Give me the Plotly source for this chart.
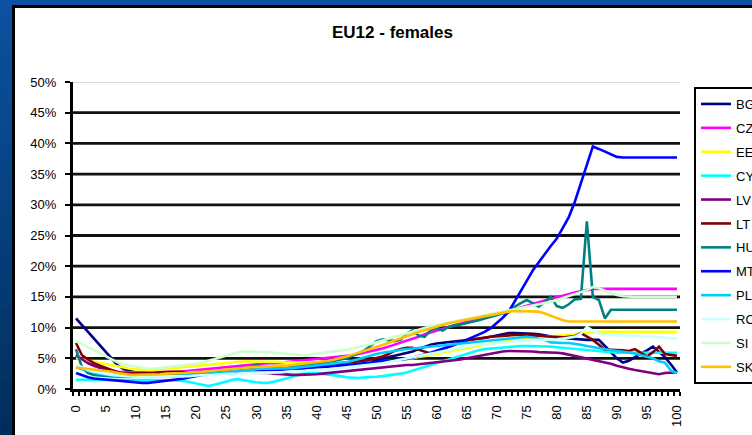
import plotly.graph_objects as go

ages = list(range(0, 101))
x_tick_labels = [str(a) for a in range(0, 101, 5)]
y_tick_values = list(range(0, 51, 5))
countries = ["BG", "CZ", "EE", "CY", "LV", "LT", "HU", "MT", "PL", "RO", "SI", "SK"]

BG = [11.5, 10.4, 9.3, 8.2, 7.0, 5.9, 4.8, 3.8, 3.2, 2.9,
      2.7, 2.6, 2.5, 2.5, 2.5, 2.5, 2.5, 2.4, 2.4, 2.4,
      2.4, 2.5, 2.6, 2.7, 2.8, 2.9, 3.0, 3.1, 3.2, 3.2,
      3.2, 3.2, 3.2, 3.2, 3.2, 3.3, 3.3, 3.4, 3.5, 3.5,
      3.6, 3.6, 3.7, 3.7, 3.8, 3.8, 3.9, 4.0, 4.2, 4.4,
      4.7, 5.0, 5.2, 5.4, 5.6, 5.8, 6.1, 6.5, 6.9, 7.2,
      7.4, 7.5, 7.6, 7.7, 7.8, 7.9, 8.0, 8.2, 8.3, 8.5,
      8.7, 8.9, 9.1, 9.1, 9.1, 9.0, 9.0, 8.9, 8.7, 8.5,
      8.4, 8.3, 8.2, 8.1, 8.0, 8.0, 8.0, 8.0, 7.0, 6.0,
      5.0, 4.3, 4.6, 5.2, 5.7, 6.3, 6.9, 6.0, 5.2, 4.0,
      2.7]
CZ = [5.5, 4.8, 4.2, 3.8, 3.5, 3.2, 3.0, 2.8, 2.7, 2.7,
      2.7, 2.7, 2.7, 2.7, 2.7, 2.8, 2.8, 2.8, 2.9, 3.0,
      3.1, 3.2, 3.3, 3.4, 3.5, 3.6, 3.7, 3.8, 3.9, 4.0,
      4.0, 4.1, 4.2, 4.2, 4.3, 4.4, 4.5, 4.5, 4.6, 4.7,
      4.8, 4.9, 5.0, 5.1, 5.2, 5.3, 5.5, 5.7, 5.9, 6.1,
      6.3, 6.6, 6.9, 7.2, 7.5, 7.8, 8.2, 8.5, 8.9, 9.2,
      9.5, 9.8, 10.1, 10.4, 10.7, 11.0, 11.3, 11.5, 11.8, 12.0,
      12.3, 12.5, 12.8, 13.0, 13.3, 13.5, 13.8, 14.1, 14.4, 14.7,
      15.0, 15.2, 15.5, 15.7, 15.9, 16.1, 16.3, 16.3, 16.3, 16.3,
      16.3, 16.3, 16.3, 16.3, 16.3, 16.3, 16.3, 16.3, 16.3, 16.3,
      16.3]
EE = [5.0, 4.8, 4.6, 4.4, 4.2, 4.0, 3.8, 3.6, 3.4, 3.3,
      3.2, 3.1, 3.1, 3.1, 3.2, 3.3, 3.4, 3.5, 3.6, 3.7,
      3.8, 3.9, 4.0, 4.1, 4.2, 4.3, 4.4, 4.4, 4.5, 4.5,
      4.5, 4.5, 4.5, 4.4, 4.4, 4.3, 4.3, 4.3, 4.2, 4.2,
      4.2, 4.2, 4.2, 4.2, 4.2, 4.2, 4.2, 4.2, 4.2, 4.2,
      4.3, 4.4, 4.5, 4.6, 4.8, 4.9, 5.0, 5.2, 5.3, 5.5,
      5.7, 5.9, 6.1, 6.3, 6.5, 6.7, 6.9, 7.1, 7.3, 7.5,
      7.7, 7.8, 7.9, 8.0, 8.1, 8.2, 8.3, 8.4, 8.5, 8.5,
      8.6, 8.7, 8.8, 8.9, 9.0, 9.1, 9.2, 9.3, 9.3, 9.3,
      9.3, 9.3, 9.3, 9.3, 9.3, 9.3, 9.3, 9.3, 9.3, 9.3,
      9.3]
CY = [1.5, 1.5, 1.5, 1.5, 1.5, 1.5, 1.5, 1.5, 1.5, 1.5,
      1.5, 1.5, 1.5, 1.5, 1.5, 1.5, 1.5, 1.4, 1.3, 1.1,
      0.8, 0.6, 0.5, 0.7, 0.9, 1.2, 1.5, 1.6, 1.4, 1.2,
      1.1, 1.0, 1.0, 1.2, 1.4, 1.7, 2.0, 2.3, 2.6, 2.7,
      2.6, 2.5, 2.4, 2.3, 2.1, 1.9, 1.8, 1.8, 1.9, 1.9,
      2.0, 2.1, 2.2, 2.3, 2.5, 2.7, 3.0, 3.3, 3.6, 4.0,
      4.3, 4.6, 4.9, 5.2, 5.5, 5.8, 6.1, 6.3, 6.5, 6.6,
      6.7, 6.8, 6.9, 6.9, 7.0, 7.0, 7.0, 7.0, 6.9, 6.9,
      6.8, 6.7, 6.6, 6.5, 6.4, 6.3, 6.2, 6.1, 6.0, 6.0,
      5.9, 5.9, 5.9, 5.9, 5.9, 5.9, 5.9, 5.9, 5.9, 5.9,
      5.9]
LV = [5.5, 4.8, 4.2, 3.8, 3.4, 3.1, 2.8, 2.6, 2.5, 2.4,
      2.4, 2.3, 2.3, 2.3, 2.3, 2.3, 2.3, 2.3, 2.3, 2.3,
      2.3, 2.3, 2.4, 2.4, 2.5, 2.5, 2.6, 2.6, 2.7, 2.7,
      2.7, 2.7, 2.6, 2.5, 2.4, 2.3, 2.3, 2.3, 2.3, 2.3,
      2.4, 2.5, 2.6, 2.7, 2.8, 2.9, 3.0, 3.1, 3.3, 3.4,
      3.5, 3.6, 3.7, 3.8, 3.8, 3.9, 3.9, 4.0, 4.1, 4.2,
      4.3, 4.4, 4.5, 4.6, 4.8, 5.0, 5.2, 5.4, 5.6, 5.8,
      6.0, 6.1, 6.2, 6.2, 6.2, 6.1, 6.1, 6.0, 6.0, 5.9,
      5.9, 5.8, 5.6, 5.4, 5.2, 5.0, 4.8, 4.6, 4.4, 4.1,
      3.8, 3.5, 3.3, 3.1, 2.9, 2.7, 2.5, 2.4, 2.6, 2.7,
      2.7]
LT = [7.5, 5.5, 4.8, 4.2, 3.8, 3.4, 3.0, 2.7, 2.5, 2.5,
      2.5, 2.5, 2.5, 2.6, 2.7, 2.8, 2.8, 2.8, 2.7, 2.6,
      2.5, 2.5, 2.6, 2.7, 2.8, 2.9, 3.0, 3.1, 3.2, 3.3,
      3.3, 3.3, 3.3, 3.3, 3.3, 3.4, 3.4, 3.5, 3.5, 3.6,
      3.7, 3.8, 3.9, 4.0, 4.1, 4.2, 4.3, 4.4, 4.6, 4.8,
      5.0, 5.3, 5.7, 6.2, 6.5, 6.7, 6.7, 6.4, 6.0, 5.8,
      6.1, 6.5, 6.9, 7.3, 7.6, 7.9, 8.1, 8.3, 8.4, 8.5,
      8.6, 8.7, 8.8, 8.8, 8.8, 8.8, 8.8, 8.7, 8.6, 8.5,
      8.5, 8.4, 8.5, 8.6, 9.1, 8.6, 8.0, 7.2, 6.4, 6.4,
      6.4, 6.3, 6.2, 6.5, 5.9, 5.3, 6.0, 6.9, 5.7, 5.5,
      5.4]
HU = [6.5, 3.5, 2.6, 2.3, 2.2, 2.1, 2.0, 2.0, 2.0, 2.0,
      2.0, 2.0, 2.0, 2.1, 2.1, 2.2, 2.2, 2.3, 2.3, 2.4,
      2.5, 2.6, 2.7, 2.8, 2.9, 3.0, 3.2, 3.3, 3.4, 3.6,
      3.9, 3.6, 3.4, 3.4, 3.5, 3.5, 3.6, 3.7, 3.8, 3.9,
      4.0, 4.2, 4.4, 4.6, 4.8, 5.0, 5.4, 5.8, 6.3, 7.0,
      7.8, 8.1, 8.0, 7.8, 8.0, 9.0, 9.6, 8.7, 8.5, 9.6,
      9.9, 9.5, 10.1, 10.4, 10.5, 10.7, 10.9, 11.2, 11.5, 11.8,
      12.0, 12.3, 12.5, 13.4, 14.0, 14.5, 14.0, 13.4, 14.2, 15.0,
      13.5, 13.2, 13.8, 14.6, 14.7, 27.3, 15.0, 14.5, 11.5, 12.9,
      12.9, 12.9, 12.9, 12.9, 12.9, 12.9, 12.9, 12.9, 12.9, 12.9,
      12.9]
MT = [2.6, 2.2, 1.9, 1.7, 1.6, 1.5, 1.4, 1.3, 1.2, 1.2,
      1.1, 1.0, 1.0, 1.1, 1.2, 1.3, 1.4, 1.5, 1.7, 1.9,
      2.1, 2.3, 2.5, 2.7, 2.9, 3.0, 3.1, 3.2, 3.2, 3.2,
      3.1, 3.1, 3.1, 3.1, 3.2, 3.2, 3.3, 3.3, 3.4, 3.5,
      3.6, 3.6, 3.7, 3.8, 3.8, 3.9, 4.0, 4.0, 4.2, 4.3,
      4.4, 4.5, 4.6, 4.7, 4.8, 4.9, 5.1, 5.3, 5.6, 5.9,
      6.2, 6.5, 6.8, 7.2, 7.6, 8.0, 8.4, 8.8, 9.3, 9.9,
      10.7, 11.6, 12.6, 14.2, 15.8, 17.6, 19.3, 20.7, 22.0, 23.3,
      24.5, 26.2, 28.0, 30.5, 33.5, 36.5, 39.5, 39.1, 38.7, 38.2,
      37.8, 37.7, 37.7, 37.7, 37.7, 37.7, 37.7, 37.7, 37.7, 37.7,
      37.7]
PL = [3.5, 3.2, 2.9, 2.7, 2.5, 2.3, 2.2, 2.1, 2.0, 2.0,
      2.0, 2.0, 2.0, 2.0, 2.0, 2.0, 2.1, 2.1, 2.2, 2.2,
      2.3, 2.4, 2.5, 2.6, 2.7, 2.8, 2.9, 3.0, 3.1, 3.2,
      3.3, 3.3, 3.3, 3.3, 3.3, 3.3, 3.4, 3.5, 3.6, 3.7,
      3.8, 3.9, 4.0, 4.1, 4.2, 4.4, 4.6, 4.9, 5.2, 5.5,
      5.7, 5.9, 6.0, 6.2, 6.4, 6.5, 6.6, 6.7, 6.8, 6.9,
      7.0, 7.1, 7.2, 7.3, 7.4, 7.5, 7.6, 7.7, 7.8, 7.9,
      8.1, 8.2, 8.3, 8.4, 8.5, 8.5, 8.4, 8.2, 8.0, 7.6,
      7.5, 7.5, 7.5, 7.4, 7.2, 7.0, 6.8, 6.6, 6.4, 6.3,
      6.2, 6.1, 6.0, 5.8, 5.5, 5.3, 5.0, 4.5, 4.3, 3.0,
      2.6]
RO = [4.0, 3.5, 3.1, 2.8, 2.6, 2.4, 2.3, 2.2, 2.1, 2.0,
      2.0, 2.0, 2.0, 2.0, 2.0, 2.0, 2.0, 2.1, 2.1, 2.1,
      2.2, 2.2, 2.3, 2.3, 2.4, 2.4, 2.5, 2.5, 2.6, 2.6,
      2.6, 2.6, 2.6, 2.7, 2.7, 2.8, 2.8, 2.9, 2.9, 3.0,
      3.0, 3.1, 3.2, 3.3, 3.4, 3.5, 3.6, 3.7, 3.8, 3.9,
      4.0, 4.2, 4.4, 4.6, 4.8, 5.0, 5.2, 5.4, 5.6, 5.8,
      6.0, 6.2, 6.4, 6.6, 6.8, 7.0, 7.1, 7.2, 7.3, 7.4,
      7.5, 7.6, 7.7, 7.8, 7.9, 8.0, 8.0, 8.0, 8.0, 8.0,
      8.1, 8.2, 8.3, 8.5, 9.0, 10.1, 9.5, 9.0, 8.9, 8.8,
      8.8, 8.7, 8.7, 8.6, 8.6, 8.5, 8.5, 8.4, 8.4, 8.3,
      8.2]
SI = [7.8, 7.3, 6.8, 6.3, 5.8, 5.3, 4.8, 4.3, 4.0, 3.8,
      3.6, 3.4, 3.3, 3.3, 3.4, 3.5, 3.6, 3.7, 3.8, 3.9,
      4.1, 4.3, 4.6, 4.9, 5.2, 5.5, 5.8, 6.0, 6.1, 6.1,
      6.1, 6.0, 6.0, 5.9, 5.8, 5.7, 5.6, 5.5, 5.5, 5.6,
      5.8, 5.9, 6.0, 6.1, 6.2, 6.4, 6.6, 6.8, 7.0, 7.3,
      7.6, 7.9, 8.2, 8.5, 8.8, 9.1, 9.4, 9.7, 10.0, 10.2,
      10.4, 10.6, 10.8, 11.0, 11.2, 11.4, 11.6, 11.8, 12.0, 12.2,
      12.4, 12.6, 12.8, 13.0, 13.2, 13.4, 13.6, 13.8, 14.0, 14.2,
      14.5, 14.8, 15.1, 15.4, 15.7, 16.1, 16.6, 16.4, 16.0, 15.6,
      15.3, 15.1, 15.0, 15.0, 15.0, 15.0, 15.0, 15.0, 15.0, 15.0,
      15.0]
SK = [3.5, 3.4, 3.3, 3.2, 3.1, 3.0, 2.8, 2.6, 2.4, 2.3,
      2.3, 2.3, 2.3, 2.4, 2.4, 2.5, 2.5, 2.6, 2.6, 2.7,
      2.7, 2.8, 2.9, 3.0, 3.1, 3.2, 3.3, 3.4, 3.5, 3.5,
      3.6, 3.6, 3.7, 3.7, 3.8, 3.8, 3.9, 4.0, 4.1, 4.2,
      4.3, 4.4, 4.6, 4.8, 5.0, 5.3, 5.6, 5.9, 6.2, 6.5,
      6.8, 7.2, 7.5, 7.9, 8.2, 8.6, 8.9, 9.3, 9.6, 9.9,
      10.2, 10.5, 10.7, 10.9, 11.1, 11.3, 11.5, 11.7, 11.9, 12.1,
      12.3, 12.5, 12.6, 12.7, 12.7, 12.7, 12.7, 12.6, 12.3, 11.9,
      11.5, 11.2, 11.0, 11.0, 11.0, 11.0, 11.0, 11.0, 11.0, 11.0,
      11.0, 11.0, 11.0, 11.0, 11.0, 11.0, 11.0, 11.0, 11.0, 11.0,
      11.0]

series_values = [BG, CZ, EE, CY, LV, LT, HU, MT, PL, RO, SI, SK]
colors = ["#000080", "#FF00FF", "#FFFF00", "#00FFFF", "#800080", "#800000",
          "#008080", "#0000FF", "#00CCFF", "#CCFFFF", "#CCFFCC", "#FFC000"]

W, H = 752, 435
L, R, T, B = 73, 680, 82, 389   # plot area in pixels
FONT = "Arial, Liberation Sans, sans-serif"


def px2x(px):
    return (px - L) / (R - L)


def py2y(py):
    return (B - py) / (B - T)


fig = go.Figure()
for name, vals, col in zip(countries, series_values, colors):
    fig.add_trace(go.Scatter(
        x=ages, y=vals, name=name, mode="lines", legendgroup=name,
        line=dict(color=col, width=2.6),
    ))

shapes = []
# blue gradient background
top_c = (12, 82, 160)
bot_c = (0, 46, 92)
n = 24
for i in range(n):
    t = i / (n - 1)
    c = tuple(int(round(top_c[k] + (bot_c[k] - top_c[k]) * t)) for k in range(3))
    y0 = H * i / n
    y1 = H * (i + 1) / n + 1
    shapes.append(dict(type="rect", xref="paper", yref="paper", layer="below",
                       x0=px2x(-5), x1=px2x(W + 5), y0=py2y(y0), y1=py2y(y1),
                       fillcolor="rgb(%d,%d,%d)" % c, line=dict(width=0)))
# white panel with black border
shapes.append(dict(type="rect", xref="paper", yref="paper", layer="below",
                   x0=px2x(13.5), x1=px2x(W + 40), y0=py2y(6.5), y1=py2y(H + 40),
                   fillcolor="white", line=dict(color="black", width=3)))
# gridlines
for v in y_tick_values[1:-1]:
    shapes.append(dict(type="line", xref="paper", yref="y", layer="below",
                       x0=0, x1=1, y0=v, y1=v, line=dict(color="#111111", width=2.8)))
shapes.append(dict(type="line", xref="paper", yref="y", layer="below",
                   x0=0, x1=1, y0=50, y1=50, line=dict(color="#b0b0b0", width=1.2)))

fig.update_layout(
    width=W, height=H,
    margin=dict(l=L, r=W - R, t=T, b=H - B, autoexpand=False),
    paper_bgcolor="#0a4a90",
    plot_bgcolor="rgba(0,0,0,0)",
    font=dict(family=FONT, color="black", size=13),
    shapes=shapes,
    showlegend=True,
    legend=dict(
        xref="paper", yref="paper",
        x=px2x(694), y=py2y(87), xanchor="left", yanchor="top",
        bgcolor="white", bordercolor="black", borderwidth=2,
        font=dict(family=FONT, size=13, color="black"),
        tracegroupgap=4, itemwidth=30,
    ),
    annotations=[dict(
        text="<b>EU12 - females</b>", xref="paper", yref="paper",
        x=px2x(392), y=py2y(33), xanchor="center", yanchor="middle",
        showarrow=False, font=dict(family=FONT, size=17, color="black"),
    )],
)

fig.update_xaxes(
    range=[-0.5, 100.5], showgrid=False, zeroline=False,
    showline=True, linecolor="black", linewidth=3,
    tickmode="array", tickvals=list(range(0, 101, 5)), ticktext=x_tick_labels,
    tickangle=-90, ticks="", ticklabelstandoff=8,
    tickfont=dict(family=FONT, size=13, color="black"),
    minor=dict(tickmode="linear", tick0=-0.5, dtick=1, ticks="outside",
               ticklen=4, tickwidth=2, tickcolor="black"),
)
fig.update_yaxes(
    range=[0, 50], showgrid=False, zeroline=False,
    showline=True, linecolor="black", linewidth=3,
    tickmode="array", tickvals=y_tick_values,
    ticktext=[f"{v}%" for v in y_tick_values],
    ticks="outside", ticklen=5, tickwidth=2, tickcolor="black",
    ticklabelstandoff=6,
    tickfont=dict(family=FONT, size=13, color="black"),
)

fig.write_html(
    "out.html",
    config={"displayModeBar": False},
    post_script="document.body.style.margin='0';document.body.style.overflow='hidden';",
)
